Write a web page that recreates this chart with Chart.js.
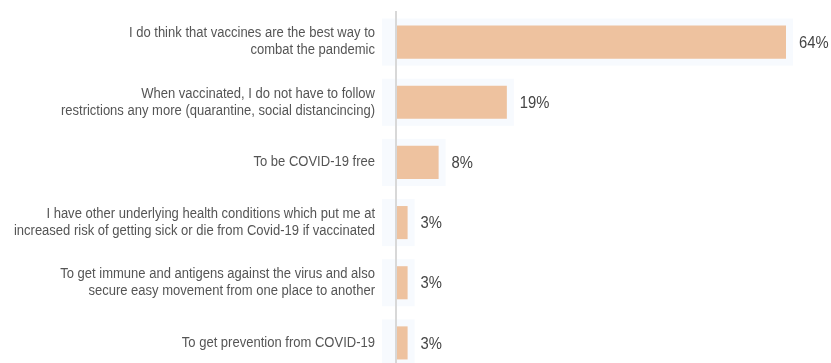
<!DOCTYPE html>
<html>
<head>
<meta charset="utf-8">
<script src="https://cdn.jsdelivr.net/npm/chart.js@4.4.1/dist/chart.umd.min.js"></script>
<style>
html,body{margin:0;padding:0;background:#fff;overflow:hidden;}
#wrap{position:relative;width:831px;height:380px;}
</style>
</head>
<body>
<div id="wrap"><canvas id="c" width="831" height="380"></canvas></div>
<script>
const categories = [
  ["I do think that vaccines are the best way to", "combat the pandemic"],
  ["When vaccinated, I do not have to follow", "restrictions any more (quarantine, social distancincing)"],
  ["To be COVID-19 free"],
  ["I have other underlying health conditions which put me at", "increased risk of getting sick or die from Covid-19 if vaccinated"],
  ["To get immune and antigens against the virus and also", "secure easy movement from one place to another"],
  ["To get prevention from COVID-19"]
];
const values = [64, 19, 8, 3, 3, 3];

const FONT = "'Liberation Sans', Arial, sans-serif";

const backdrop = {
  id: 'backdrop',
  beforeDatasetsDraw(chart) {
    const ctx = chart.ctx;
    const meta = chart.getDatasetMeta(0);
    ctx.save();
    ctx.fillStyle = '#f7fafe';
    meta.data.forEach(el => {
      const p = el.getProps(['x','y','base','height'], true);
      const m = 7;
      ctx.fillRect(p.base - m, p.y - p.height/2 - m, (p.x - p.base) + 2*m, p.height + 2*m);
    });
    ctx.restore();
  }
};

function condensedText(ctx, text, x, y, sx, align) {
  ctx.save();
  ctx.translate(x, y);
  ctx.scale(sx, 1);
  ctx.textAlign = align;
  ctx.fillText(text, 0, 0);
  ctx.restore();
}

const textLayer = {
  id: 'textLayer',
  afterDatasetsDraw(chart) {
    const ctx = chart.ctx;
    const meta = chart.getDatasetMeta(0);
    const yScale = chart.scales.y;
    ctx.save();
    ctx.textBaseline = 'middle';
    ctx.fillStyle = '#555555';
    ctx.font = "14px " + FONT;
    categories.forEach((lines, i) => {
      const cy = yScale.getPixelForValue(i);
      const lh = 17;
      const startY = cy - (lines.length - 1) * lh / 2;
      lines.forEach((ln, j) => {
        condensedText(ctx, ln, yScale.right - 21, startY + j * lh, 0.93, 'right');
      });
    });
    ctx.fillStyle = '#444444';
    ctx.font = "17px " + FONT;
    meta.data.forEach((el, i) => {
      const p = el.getProps(['x','y'], true);
      condensedText(ctx, values[i] + '%', p.x + 13, p.y + 1, 0.87, 'left');
    });
    ctx.restore();
  }
};

new Chart(document.getElementById('c'), {
  type: 'bar',
  data: {
    labels: categories.map(l => l.join(' ')),
    datasets: [{
      data: values,
      backgroundColor: '#eec29f',
      borderWidth: 0,
      categoryPercentage: 1.0,
      barPercentage: 0.55
    }]
  },
  options: {
    indexAxis: 'y',
    responsive: false,
    animation: false,
    devicePixelRatio: 1,
    layout: { padding: { top: 12, bottom: 7, left: 0, right: 45 } },
    plugins: { legend: { display: false }, tooltip: { enabled: false } },
    scales: {
      x: {
        min: 1.13,
        max: 64,
        display: false,
        grid: { display: false }
      },
      y: {
        grid: { display: false, drawTicks: false },
        border: { display: true, color: '#d8d8d8', width: 2, z: 1 },
        ticks: { display: false },
        afterFit(scale) { scale.width = 396; }
      }
    }
  },
  plugins: [backdrop, textLayer]
});
</script>
</body>
</html>
